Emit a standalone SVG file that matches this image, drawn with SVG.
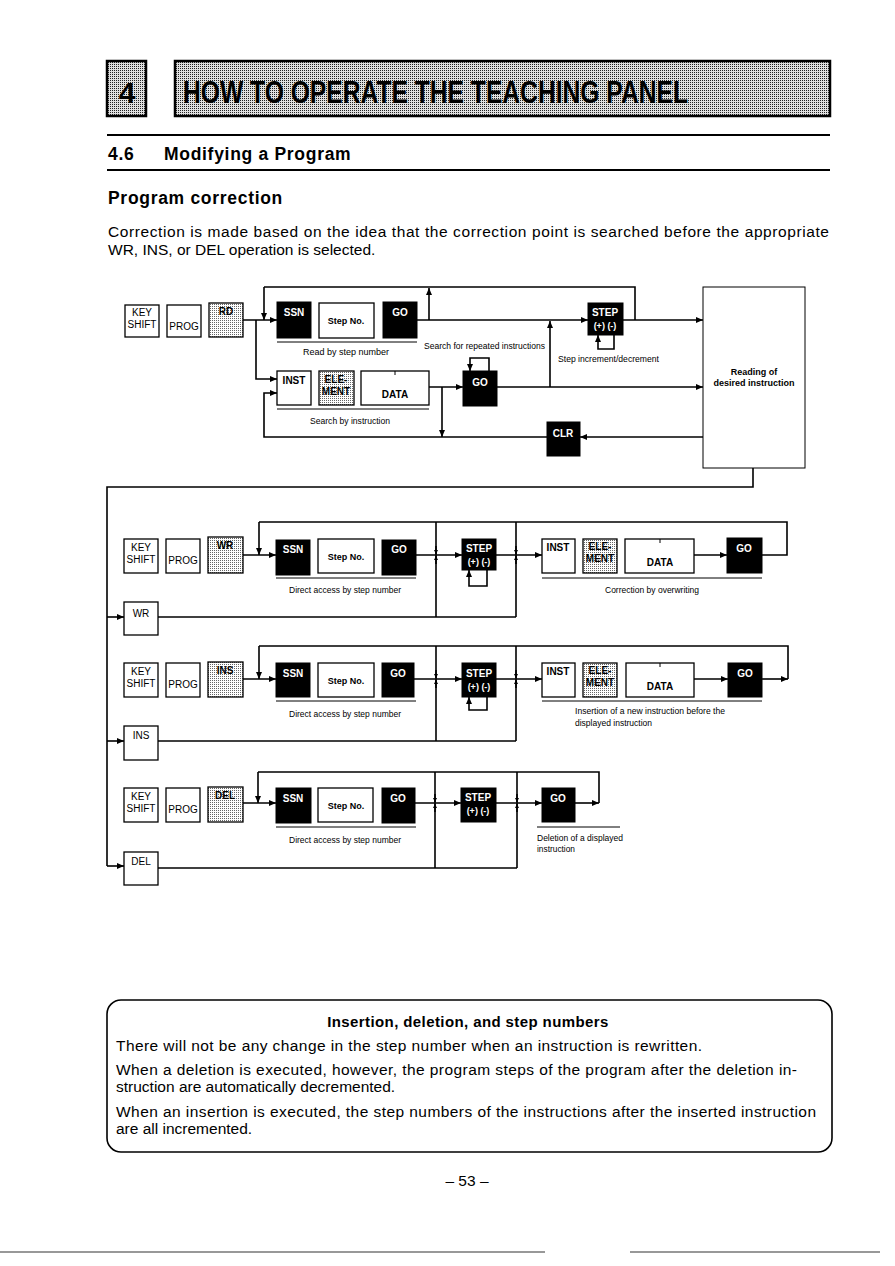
<svg xmlns="http://www.w3.org/2000/svg" width="895" height="1266" viewBox="0 0 895 1266">
<style>
text{font-family:"Liberation Sans",Arial,sans-serif;fill:#000}
.b{font-weight:bold}
.w{fill:#fff}
.c{text-anchor:middle}
.k{font-size:10px}
.s{font-size:9px}
.p{font-size:15.5px}
.h{font-size:17.5px;font-weight:bold;letter-spacing:0.7px}
.wb{fill:#fff;stroke:#000;stroke-width:1.3}
.bb{fill:#000;stroke:#000;stroke-width:1}
.sb{fill:url(#st);stroke:#000;stroke-width:1.3}
.ln{fill:none;stroke:#000;stroke-width:1.6}
.ul{fill:none;stroke:#000;stroke-width:1}
</style>
<defs>
<pattern id="st" width="2" height="2" patternUnits="userSpaceOnUse"><rect width="2" height="2" fill="#fff"/><rect width="1" height="1" fill="#666"/></pattern>
<pattern id="sth" width="2" height="2" patternUnits="userSpaceOnUse"><rect width="2" height="2" fill="#e0e0e0"/><rect width="1" height="1" fill="#222"/></pattern>
<marker id="a" markerWidth="7" markerHeight="6" refX="7" refY="3" orient="auto" markerUnits="userSpaceOnUse"><path d="M0,0 L7,3 L0,6 z" fill="#000"/></marker>
<marker id="m" markerWidth="4" markerHeight="4" refX="4" refY="2" orient="auto" markerUnits="userSpaceOnUse"><path d="M0,0 L4,2 L0,4 z" fill="#000"/></marker>
</defs>
<rect width="895" height="1266" fill="#fff"/>

<!-- Header -->
<g id="header">
<rect x="107" y="61" width="39" height="55" fill="url(#sth)" stroke="#000" stroke-width="2.5"/>
<text x="127" y="103" class="b c" font-size="30">4</text>
<rect x="175" y="61" width="655" height="55" fill="url(#sth)" stroke="#000" stroke-width="2.5"/>
<text x="183" y="103" class="b" font-size="32" textLength="505" lengthAdjust="spacingAndGlyphs">HOW TO OPERATE THE TEACHING PANEL</text>
<line x1="107" y1="135" x2="830" y2="135" stroke="#000" stroke-width="2"/>
<text x="108" y="160" class="h">4.6</text>
<text x="164" y="160" class="h">Modifying a Program</text>
<line x1="107" y1="170" x2="830" y2="170" stroke="#000" stroke-width="2"/>
<text x="108" y="204" class="h">Program correction</text>
<text x="108" y="237" class="p" textLength="721" lengthAdjust="spacing">Correction is made based on the idea that the correction point is searched before the appropriate</text>
<text x="108" y="255" class="p">WR, INS, or DEL operation is selected.</text>
</g>

<!-- Top diagram nodes -->
<g id="top-keyshift"><rect x="125" y="305" width="34" height="32" class="wb"/><text x="142" y="316" class="k c">KEY</text><text x="142" y="328" class="k c">SHIFT</text></g>
<g id="top-prog"><rect x="167" y="305" width="34" height="32" class="wb"/><text x="184" y="330" class="k c">PROG</text></g>
<g id="top-rd"><rect x="209" y="303" width="34" height="34" class="sb"/><text x="226" y="315" class="k c b">RD</text></g>
<g id="top-ssn"><rect x="277" y="302" width="34" height="36" class="bb"/><text x="294" y="316" class="k c w b">SSN</text></g>
<g id="top-stepno"><rect x="319" y="303" width="55" height="35" class="wb" stroke-width="1.6"/><text x="346" y="324" class="s c b">Step No.</text></g>
<g id="top-go"><rect x="383" y="302" width="34" height="36" class="bb"/><text x="400" y="316" class="k c w b">GO</text></g>
<g id="top-inst"><rect x="277" y="371" width="34" height="34" class="wb"/><text x="294" y="384" class="k c b">INST</text></g>
<g id="top-element"><rect x="319" y="371" width="35" height="34" class="sb"/><text x="336" y="383" class="k c b">ELE-</text><text x="336" y="395" class="k c b">MENT</text></g>
<g id="top-data"><rect x="361" y="371" width="68" height="34" class="wb"/><line x1="395" y1="371" x2="395" y2="375" class="ul"/><text x="395" y="398" class="k c b">DATA</text></g>
<g id="top-go2"><rect x="463" y="371" width="34" height="35" class="bb"/><text x="480" y="386" class="k c w b">GO</text></g>
<g id="top-step"><rect x="588" y="303" width="35" height="32" class="bb"/><text x="605" y="316" class="k c w b">STEP</text><text x="605" y="329" class="s c w b">(+) (-)</text></g>
<g id="top-clr"><rect x="547" y="422" width="33" height="34" class="bb"/><text x="563" y="437" class="k c w b">CLR</text></g>
<g id="top-reading"><rect x="703" y="287" width="102" height="181" fill="#fff" stroke="#000" stroke-width="1"/><text x="754" y="375" class="s c b">Reading of</text><text x="754" y="386" class="s c b">desired instruction</text></g>
<g id="top-labels">
<line x1="277" y1="342" x2="417" y2="342" class="ul"/>
<text x="346" y="355" class="s c" textLength="86" lengthAdjust="spacingAndGlyphs">Read by step number</text>
<line x1="277" y1="409" x2="429" y2="409" class="ul"/>
<text x="350" y="424" class="s c" textLength="80" lengthAdjust="spacingAndGlyphs">Search by instruction</text>
<text x="424" y="349" class="s" textLength="121" lengthAdjust="spacingAndGlyphs">Search for repeated instructions</text>
<text x="558" y="362" class="s" textLength="101" lengthAdjust="spacingAndGlyphs">Step increment/decrement</text>
</g>

<!-- WR section nodes -->
<g id="wr-keyshift"><rect x="124" y="539" width="34" height="34" class="wb"/><text x="141" y="551" class="k c">KEY</text><text x="141" y="563" class="k c">SHIFT</text></g>
<g id="wr-prog"><rect x="166" y="539" width="34" height="34" class="wb"/><text x="183" y="564" class="k c">PROG</text></g>
<g id="wr-wr"><rect x="208" y="537" width="35" height="36" class="sb"/><text x="225" y="549" class="k c b">WR</text></g>
<g id="wr-ssn"><rect x="276" y="540" width="34" height="35" class="bb"/><text x="293" y="553" class="k c w b">SSN</text></g>
<g id="wr-stepno"><rect x="318" y="539" width="56" height="34" class="wb" stroke-width="1.6"/><text x="346" y="560" class="s c b">Step No.</text></g>
<g id="wr-go"><rect x="382" y="540" width="34" height="35" class="bb"/><text x="399" y="553" class="k c w b">GO</text></g>
<g id="wr-step"><rect x="462" y="539" width="34" height="31" class="bb"/><text x="479" y="552" class="k c w b">STEP</text><text x="479" y="565" class="s c w b">(+) (-)</text></g>
<g id="wr-inst"><rect x="542" y="539" width="33" height="34" class="wb"/><text x="558" y="551" class="k c b">INST</text></g>
<g id="wr-element"><rect x="583" y="539" width="34" height="34" class="sb"/><text x="600" y="550" class="k c b">ELE-</text><text x="600" y="562" class="k c b">MENT</text></g>
<g id="wr-data"><rect x="625" y="539" width="69" height="34" class="wb"/><line x1="660" y1="539" x2="660" y2="543" class="ul"/><text x="660" y="566" class="k c b">DATA</text></g>
<g id="wr-go2"><rect x="727" y="538" width="35" height="35" class="bb"/><text x="744" y="552" class="k c w b">GO</text></g>
<g id="wr-box"><rect x="124" y="602" width="34" height="33" class="wb"/><text x="141" y="617" class="k c">WR</text></g>
<g id="wr-labels">
<line x1="276" y1="578" x2="416" y2="578" class="ul"/>
<text x="345" y="593" class="s c" textLength="112" lengthAdjust="spacingAndGlyphs">Direct access by step number</text>
<line x1="542" y1="578" x2="762" y2="578" class="ul"/>
<text x="652" y="593" class="s c" textLength="94" lengthAdjust="spacingAndGlyphs">Correction by overwriting</text>
</g>

<!-- INS section nodes -->
<g id="ins-keyshift"><rect x="124" y="663" width="34" height="34" class="wb"/><text x="141" y="675" class="k c">KEY</text><text x="141" y="687" class="k c">SHIFT</text></g>
<g id="ins-prog"><rect x="166" y="663" width="34" height="34" class="wb"/><text x="183" y="688" class="k c">PROG</text></g>
<g id="ins-ins"><rect x="208" y="662" width="35" height="35" class="sb"/><text x="225" y="674" class="k c b">INS</text></g>
<g id="ins-ssn"><rect x="276" y="663" width="34" height="34" class="bb"/><text x="293" y="677" class="k c w b">SSN</text></g>
<g id="ins-stepno"><rect x="318" y="663" width="56" height="34" class="wb" stroke-width="1.6"/><text x="346" y="684" class="s c b">Step No.</text></g>
<g id="ins-go"><rect x="382" y="663" width="32" height="34" class="bb"/><text x="398" y="677" class="k c w b">GO</text></g>
<g id="ins-step"><rect x="462" y="663" width="34" height="34" class="bb"/><text x="479" y="677" class="k c w b">STEP</text><text x="479" y="690" class="s c w b">(+) (-)</text></g>
<g id="ins-inst"><rect x="542" y="663" width="33" height="34" class="wb"/><text x="558" y="675" class="k c b">INST</text></g>
<g id="ins-element"><rect x="583" y="663" width="34" height="34" class="sb"/><text x="600" y="674" class="k c b">ELE-</text><text x="600" y="686" class="k c b">MENT</text></g>
<g id="ins-data"><rect x="626" y="663" width="68" height="34" class="wb"/><line x1="660" y1="663" x2="660" y2="667" class="ul"/><text x="660" y="690" class="k c b">DATA</text></g>
<g id="ins-go2"><rect x="728" y="663" width="34" height="34" class="bb"/><text x="745" y="677" class="k c w b">GO</text></g>
<g id="ins-box"><rect x="124" y="726" width="34" height="34" class="wb"/><text x="141" y="739" class="k c">INS</text></g>
<g id="ins-labels">
<line x1="276" y1="701" x2="416" y2="701" class="ul"/>
<text x="345" y="717" class="s c" textLength="112" lengthAdjust="spacingAndGlyphs">Direct access by step number</text>
<line x1="542" y1="701" x2="762" y2="701" class="ul"/>
<text x="575" y="714" class="s" textLength="150" lengthAdjust="spacingAndGlyphs">Insertion of a new instruction before the</text>
<text x="575" y="726" class="s" textLength="77" lengthAdjust="spacingAndGlyphs">displayed instruction</text>
</g>

<!-- DEL section nodes -->
<g id="del-keyshift"><rect x="124" y="788" width="34" height="34" class="wb"/><text x="141" y="800" class="k c">KEY</text><text x="141" y="812" class="k c">SHIFT</text></g>
<g id="del-prog"><rect x="166" y="788" width="34" height="34" class="wb"/><text x="183" y="813" class="k c">PROG</text></g>
<g id="del-del"><rect x="208" y="787" width="35" height="35" class="sb"/><text x="225" y="799" class="k c b">DEL</text></g>
<g id="del-ssn"><rect x="276" y="788" width="35" height="35" class="bb"/><text x="293" y="802" class="k c w b">SSN</text></g>
<g id="del-stepno"><rect x="318" y="788" width="55" height="34" class="wb" stroke-width="1.6"/><text x="346" y="809" class="s c b">Step No.</text></g>
<g id="del-go"><rect x="382" y="788" width="33" height="35" class="bb"/><text x="398" y="802" class="k c w b">GO</text></g>
<g id="del-step"><rect x="461" y="788" width="35" height="34" class="bb"/><text x="478" y="801" class="k c w b">STEP</text><text x="478" y="814" class="s c w b">(+) (-)</text></g>
<g id="del-go2"><rect x="542" y="788" width="33" height="34" class="bb"/><text x="558" y="802" class="k c w b">GO</text></g>
<g id="del-box"><rect x="124" y="852" width="34" height="33" class="wb"/><text x="141" y="865" class="k c">DEL</text></g>
<g id="del-labels">
<line x1="276" y1="827" x2="416" y2="827" class="ul"/>
<text x="345" y="843" class="s c" textLength="112" lengthAdjust="spacingAndGlyphs">Direct access by step number</text>
<line x1="537" y1="827" x2="620" y2="827" class="ul"/>
<text x="537" y="841" class="s" textLength="86" lengthAdjust="spacingAndGlyphs">Deletion of a displayed</text>
<text x="537" y="852" class="s" textLength="38" lengthAdjust="spacingAndGlyphs">instruction</text>
</g>

<!-- Connectors -->
<g id="connectors">
<path d="M243,320 H277" class="ln" marker-end="url(#a)"/>
<path d="M264,287 V320" class="ln" marker-end="url(#a)"/>
<path d="M256,320 V379 H277" class="ln" marker-end="url(#a)"/>
<path d="M547,437 H264 V393 H277" class="ln" marker-end="url(#a)"/>
<path d="M417,320 H588" class="ln" marker-end="url(#a)"/>
<path d="M429,320 V288" class="ln" marker-end="url(#a)"/>
<path d="M623,320 H703" class="ln" marker-end="url(#a)"/>
<path d="M635,320 V287 H264" class="ln"/>
<path d="M614,335 V349 H598 V335" class="ln" marker-end="url(#a)"/>
<path d="M550,387 V321" class="ln" marker-end="url(#a)"/>
<path d="M429,387 H463" class="ln" marker-end="url(#a)"/>
<path d="M442,387 V437" class="ln" marker-end="url(#a)"/>
<path d="M489,371 V358 H470 V371" class="ln" marker-end="url(#a)"/>
<path d="M497,387 H703" class="ln" marker-end="url(#a)"/>
<path d="M703,437 H580" class="ln" marker-end="url(#a)"/>
<path d="M753,468 V487 H107 V866" class="ln"/>
<path d="M107,617 H124" class="ln" marker-end="url(#a)"/>
<path d="M107,741 H124" class="ln" marker-end="url(#a)"/>
<path d="M107,866 H124" class="ln" marker-end="url(#a)"/>
<path d="M243,555 H276" class="ln" marker-end="url(#a)"/>
<path d="M259,522 V555" class="ln" marker-end="url(#a)"/>
<path d="M416,555 H462" class="ln" marker-end="url(#a)"/>
<path d="M496,555 H542" class="ln" marker-end="url(#a)"/>
<path d="M694,555 H727" class="ln" marker-end="url(#a)"/>
<path d="M762,555 H787 V522 H259" class="ln"/>
<path d="M436,522 V617" class="ln"/>
<path d="M516,522 V617" class="ln"/>
<path d="M158,617 H516" class="ln"/>
<path d="M436,546 V554" class="ln" marker-end="url(#m)"/>
<path d="M436,564 V556" class="ln" marker-end="url(#m)"/>
<path d="M516,546 V554" class="ln" marker-end="url(#m)"/>
<path d="M516,564 V556" class="ln" marker-end="url(#m)"/>
<path d="M487,570 V586 H469 V570" class="ln" marker-end="url(#a)"/>
<path d="M243,679 H276" class="ln" marker-end="url(#a)"/>
<path d="M259,646 V679" class="ln" marker-end="url(#a)"/>
<path d="M414,679 H462" class="ln" marker-end="url(#a)"/>
<path d="M496,679 H542" class="ln" marker-end="url(#a)"/>
<path d="M694,679 H728" class="ln" marker-end="url(#a)"/>
<path d="M762,679 H788" class="ln" marker-end="url(#a)"/>
<path d="M788,679 V646 H259" class="ln"/>
<path d="M436,646 V741" class="ln"/>
<path d="M516,646 V741" class="ln"/>
<path d="M158,741 H516" class="ln"/>
<path d="M436,670 V678" class="ln" marker-end="url(#m)"/>
<path d="M436,688 V680" class="ln" marker-end="url(#m)"/>
<path d="M516,670 V678" class="ln" marker-end="url(#m)"/>
<path d="M516,688 V680" class="ln" marker-end="url(#m)"/>
<path d="M487,697 V710 H469 V697" class="ln" marker-end="url(#a)"/>
<path d="M243,803 H276" class="ln" marker-end="url(#a)"/>
<path d="M258,772 V803" class="ln" marker-end="url(#a)"/>
<path d="M415,803 H461" class="ln" marker-end="url(#a)"/>
<path d="M496,803 H542" class="ln" marker-end="url(#a)"/>
<path d="M575,803 H599" class="ln" marker-end="url(#a)"/>
<path d="M599,803 V772 H258" class="ln"/>
<path d="M435,772 V868" class="ln"/>
<path d="M517,772 V868" class="ln"/>
<path d="M158,868 H517" class="ln"/>
<path d="M435,794 V802" class="ln" marker-end="url(#m)"/>
<path d="M435,812 V804" class="ln" marker-end="url(#m)"/>
<path d="M517,794 V802" class="ln" marker-end="url(#m)"/>
<path d="M517,812 V804" class="ln" marker-end="url(#m)"/>
</g>

<!-- Note box -->
<g id="note">
<rect x="107" y="1000" width="725" height="152" rx="14" ry="14" fill="none" stroke="#000" stroke-width="1.6"/>
<text x="468" y="1027" class="b c" font-size="15" letter-spacing="0.4">Insertion, deletion, and step numbers</text>
<text x="116" y="1051" class="p" textLength="586" lengthAdjust="spacing">There will not be any change in the step number when an instruction is rewritten.</text>
<text x="116" y="1075" class="p" textLength="681" lengthAdjust="spacing">When a deletion is executed, however, the program steps of the program after the deletion in-</text>
<text x="116" y="1092" class="p">struction are automatically decremented.</text>
<text x="116" y="1117" class="p" textLength="700" lengthAdjust="spacing">When an insertion is executed, the step numbers of the instructions after the inserted instruction</text>
<text x="116" y="1134" class="p">are all incremented.</text>
</g>

<g id="footer">
<text x="467" y="1186" class="p c">– 53 –</text>
<line x1="0" y1="1252" x2="545" y2="1252" stroke="#333" stroke-width="1.2"/>
<line x1="630" y1="1252" x2="880" y2="1252" stroke="#333" stroke-width="1.2"/>
</g>
</svg>
